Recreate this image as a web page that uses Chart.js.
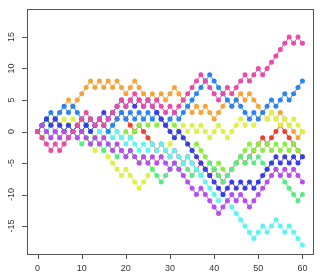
<!DOCTYPE html>
<html lang="en">
<head>
<meta charset="UTF-8">
<title>Random walks</title>
<script src="https://cdn.jsdelivr.net/npm/chart.js@4/dist/chart.umd.min.js"></script>
<style>
  html, body { margin: 0; padding: 0; background: #fff; }
</style>
</head>
<body>
<div style="position: relative; width: 320px; height: 279px;">
  <canvas id="chart" width="320" height="279"></canvas>
</div>
<script>
const steps = Array.from({ length: 61 }, (v, i) => i)

const xTicks = [0, 10, 20, 30, 40, 50, 60]
const yTicks = [-15, -10, -5, 0, 5, 10, 15]

// one walk per colour, drawn red first and pink last
const walkRed = [0,-1,0,1,0,1,0,1,0,1,2,1,2,1,2,1,2,3,2,3,2,1,0,1,0,-1,-2,-3,-2,-3,-4,-3,-4,-5,-4,-5,-6,-5,-6,-7,-6,-7,-8,-7,-6,-5,-4,-5,-4,-3,-2,-1,-2,-1,0,1,0,-1,-2,-3,-4]
const walkOrange = [0,1,2,1,2,3,4,5,4,5,6,7,8,7,8,7,8,7,8,7,6,7,8,7,6,5,6,5,6,5,6,7,6,5,4,3,4,3,4,3,2,3,4,5,4,5,6,5,6,5,4,3,2,3,2,3,2,1,0,-1,0]
const walkYellow = [0,-1,0,1,2,1,2,1,2,1,0,-1,-2,-3,-2,-3,-4,-5,-6,-7,-6,-7,-8,-9,-8,-7,-6,-5,-4,-3,-2,-1,0,1,0,1,0,1,0,-1,0,1,0,-1,0,1,2,1,2,1,2,3,2,3,2,1,2,1,2,1,0]
const walkGreen = [0,1,2,1,2,1,0,1,0,-1,0,1,0,-1,0,-1,0,1,0,-1,0,-1,0,1,2,1,2,1,2,1,2,1,0,-1,-2,-3,-2,-3,-4,-5,-6,-5,-6,-7,-6,-5,-4,-3,-2,-3,-2,-3,-2,-3,-2,-3,-2,-3,-2,-3,-4]
const walkMint = [0,-1,0,-1,0,-1,-2,-1,0,-1,-2,-1,-2,-1,-2,-3,-2,-3,-4,-3,-4,-3,-4,-5,-4,-5,-6,-7,-8,-7,-6,-5,-6,-5,-6,-7,-6,-7,-6,-5,-6,-7,-8,-7,-6,-5,-4,-5,-4,-5,-4,-5,-6,-5,-6,-7,-8,-9,-10,-11,-10]
const walkCyan = [0,1,0,1,0,1,0,1,0,1,0,1,0,1,0,1,0,-1,0,-1,-2,-1,-2,-3,-2,-3,-2,-3,-2,-3,-4,-3,-4,-5,-4,-5,-6,-7,-8,-9,-10,-11,-10,-11,-12,-13,-14,-15,-16,-17,-16,-15,-16,-15,-14,-15,-16,-15,-16,-17,-18]
const walkBlue = [0,1,2,3,2,3,4,3,4,3,2,1,2,1,2,1,0,1,2,3,2,3,2,3,2,3,2,3,2,1,2,3,2,3,4,5,6,7,8,9,8,7,6,5,4,5,4,3,2,3,2,3,4,5,4,5,6,5,6,7,8]
const walkIndigo = [0,1,2,1,2,1,0,1,0,1,0,1,0,1,2,3,2,3,4,5,4,5,4,5,4,5,4,3,2,1,0,-1,0,-1,-2,-3,-4,-5,-6,-7,-8,-9,-10,-9,-8,-9,-8,-9,-8,-9,-8,-7,-6,-5,-4,-5,-4,-5,-4,-5,-4]
const walkPurple = [0,1,0,-1,0,-1,0,-1,0,-1,0,-1,-2,-1,-2,-1,-2,-3,-2,-3,-4,-3,-4,-5,-4,-5,-4,-5,-4,-5,-6,-5,-6,-7,-8,-9,-10,-9,-10,-11,-12,-13,-12,-11,-10,-11,-10,-11,-12,-11,-10,-9,-8,-7,-6,-7,-6,-7,-6,-7,-8]
const walkPink = [0,-1,-2,-3,-2,-3,-2,-1,0,1,2,3,2,1,2,1,2,3,4,5,4,5,6,5,4,5,4,5,4,3,4,3,4,5,6,7,8,9,8,7,6,5,6,7,6,7,8,9,8,9,10,9,10,11,12,13,14,15,14,15,14]

const walks = [walkRed, walkOrange, walkYellow, walkGreen, walkMint, walkCyan, walkBlue, walkIndigo, walkPurple, walkPink]
const colors = ['#f0402c', '#f6a43a', '#dcf046', '#8aec44', '#5ee88c', '#62f2f4', '#2c84f2', '#3a3aee', '#b84cf0', '#e84ca8']

const axisFont = '9px "Liberation Sans", Arial, sans-serif'

const rFrame = {
  id: 'rFrame',
  afterDraw(chart) {
    const { ctx, chartArea: a, scales: { x, y } } = chart
    ctx.save()
    ctx.strokeStyle = '#555'
    ctx.lineWidth = 1
    ctx.strokeRect(Math.round(a.left) + 0.5, Math.round(a.top) + 0.5, Math.round(a.right - a.left), Math.round(a.bottom - a.top))
    ctx.fillStyle = '#333'
    ctx.font = axisFont
    ctx.beginPath()
    xTicks.forEach(v => {
      const px = Math.round(x.getPixelForValue(v)) + 0.5
      ctx.moveTo(px, a.bottom)
      ctx.lineTo(px, a.bottom + 5)
    })
    yTicks.forEach(v => {
      const py = Math.round(y.getPixelForValue(v)) + 0.5
      ctx.moveTo(a.left, py)
      ctx.lineTo(a.left - 5, py)
    })
    ctx.stroke()
    ctx.textAlign = 'center'
    ctx.textBaseline = 'middle'
    xTicks.forEach(v => {
      ctx.fillText(String(v), x.getPixelForValue(v), a.bottom + 15)
    })
    yTicks.forEach(v => {
      ctx.save()
      ctx.translate(a.left - 15, y.getPixelForValue(v))
      ctx.rotate(-Math.PI / 2)
      ctx.fillText(String(v), 0, 0)
      ctx.restore()
    })
    ctx.restore()
  }
}

const ctx = document.getElementById('chart').getContext('2d')

new Chart(ctx, {
  type: 'line',
  data: {
    datasets: walks.map((walk, k) => ({
      data: walk.map((v, i) => ({ x: steps[i], y: v })),
      borderColor: colors[k],
      backgroundColor: colors[k],
      pointBackgroundColor: colors[k],
      pointBorderWidth: 0,
      pointRadius: 2.5,
      borderWidth: 1,
      tension: 0,
      fill: false,
      order: walks.length - k
    }))
  },
  plugins: [rFrame],
  options: {
    responsive: false,
    animation: false,
    layout: { padding: { top: 9, right: 7, left: 0, bottom: 0 } },
    plugins: { legend: { display: false }, tooltip: { enabled: false } },
    scales: {
      x: {
        type: 'linear',
        min: -2.4,
        max: 62.4,
        grid: { display: false },
        border: { display: false },
        ticks: { display: false },
        afterFit(s) { s.height = 25 }
      },
      y: {
        type: 'linear',
        min: -19.44,
        max: 19.44,
        grid: { display: false },
        border: { display: false },
        ticks: { display: false },
        afterFit(s) { s.width = 27 }
      }
    }
  }
})
</script>
</body>
</html>
